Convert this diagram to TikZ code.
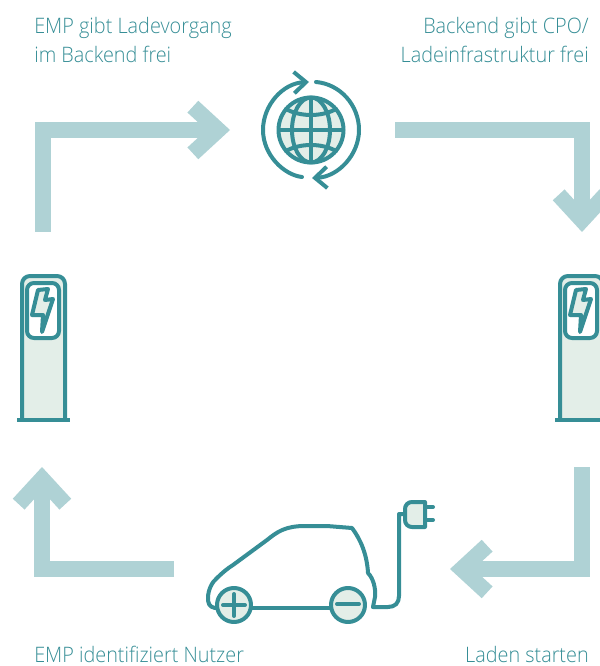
\documentclass[tikz,border=0pt]{standalone}
\usepackage{fontspec}
\setmainfont{Open Sans Light}[FakeStretch=0.93]
\usetikzlibrary{arrows.meta,calc,positioning}
\definecolor{tealline}{HTML}{368E96}
\definecolor{flowcol}{HTML}{AFD2D5}
\definecolor{softfill}{HTML}{E3EEE8}
\tikzset{
  pillar/.pic={
    \draw[icon,fill=softfill,line cap=butt] (22,420) -- (22,284) to[out=90,in=180] (30,276) -- (57,276) to[out=0,in=90] (65,284) -- (65,420);
    \draw[icon,line cap=butt] (17,420) -- (70,420);
    \draw[icon,fill=white] (27,290) to[out=90,in=180] (34,283) -- (52,283) to[out=0,in=90] (59,290) -- (59,331) to[out=-90,in=0] (52,338) -- (34,338) to[out=180,in=-90] (27,331) -- cycle;
    \draw[icon,fill=softfill] (38,290) -- (48,289) -- (45,300) -- (53,299) -- (42,332) -- (43,315) -- (32,315) -- cycle;
  }
}
\begin{document}
\begin{tikzpicture}[x=0.75pt,y=-0.75pt,
    every node/.style={font=\fontsize{16}{21.75}\selectfont,text=tealline,inner sep=0pt},
    flow/.style={line width=12pt,flowcol,-{Straight Barb[length=19pt,width=35pt,line width=12pt]}},
    icon/.style={tealline,line width=3pt,line join=round,line cap=round}]
  \useasboundingbox (0,0) rectangle (599,666);
  % texts
  \node[align=left,anchor=north west] (freeleft) at (34,17) {EMP gibt Ladevorgang\\im Backend frei};
  \node[align=right,anchor=north east] (freeright) at (589,17) {Backend gibt CPO/\\Ladeinfrastruktur frei};
  \node[anchor=base west] (idtext) at (34,662) {EMP identifiziert Nutzer};
  \node[anchor=base east] (starttext) at (589,662) {Laden starten};
  % flow arrows
  \coordinate (flowa) at (43,232);
  \coordinate (flowb) at (230,130);
  \coordinate (flowc) at (395,130);
  \coordinate (flowd) at (582,232);
  \coordinate (flowe) at (582,467);
  \coordinate (flowf) at (450,569);
  \coordinate (flowg) at (174,569);
  \coordinate (flowh) at (42,467);
  \draw[flow] (flowa) |- (flowb);
  \draw[flow] (flowc) -| (flowd);
  \draw[flow] (flowe) |- (flowf);
  \draw[flow] (flowg) -| (flowh);
  % globe
  \coordinate (globe) at (311,130);
  \draw[icon,fill=softfill] (globe) circle[radius=32.5];
  \draw[icon] (globe) ellipse[x radius=19,y radius=32.5];
  \draw[icon] (311,98) -- (311,162);
  \draw[icon] (279,130) -- (343,130);
  \draw[icon] (286,109) .. controls (300,117) and (322,117) .. (336,109);
  \draw[icon] (286,151) .. controls (300,143) and (322,143) .. (336,151);
  % ring arrows
  \draw[icon,-{Straight Barb[length=9pt,width=16pt,line width=3pt]}] (302,177) .. controls (284,175) and (263,155) .. (263,130) .. controls (263,105) and (283,83) .. (309,82);
  \draw[icon,-{Straight Barb[length=9pt,width=16pt,line width=3pt]}] (316,82) .. controls (340,84) and (359,105) .. (359,130) .. controls (359,155) and (338,177) .. (312,178);
  % charging posts
  \pic at (0,0) {pillar};
  \pic at (538,0) {pillar};
  % car
  \draw[icon] (215,608) .. controls (209,607) and (208,603) .. (208,598) .. controls (208,590) and (212,582) .. (217,578) .. controls (222,573) and (228,568) .. (233,565) -- (267,540) .. controls (277,532) and (285,526) .. (305,526) -- (327,526) -- (352,528) .. controls (361,540) and (367,555) .. (368,573) .. controls (373,578) and (376,588) .. (375,597) -- (373,607);
  \draw[icon,fill=softfill] (234,605) circle[radius=17];
  \draw[icon,fill=softfill] (348,605) circle[radius=17];
  \draw[icon] (251,608) -- (331,608);
  \draw[icon] (223,605) -- (245,605);
  \draw[icon] (234,594) -- (234,616);
  \draw[icon] (337,604) -- (359,604);
  % cable and plug
  \draw[icon] (373,607) -- (388,607) .. controls (395,607) and (399,603) .. (399,596) -- (399,514) -- (405,514);
  \draw[icon,fill=softfill] (425,502) -- (412,502) .. controls (408,502) and (405,505) .. (405,509) -- (405,520) .. controls (405,524) and (408,527) .. (412,527) -- (425,527) -- cycle;
  \draw[icon] (425,507) -- (433,507);
  \draw[icon] (425,520) -- (433,520);
\end{tikzpicture}
\end{document}
